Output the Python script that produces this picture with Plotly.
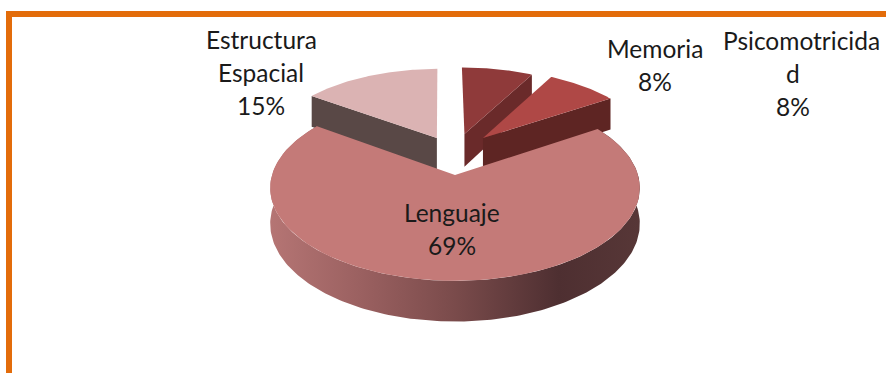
import numpy as np
import plotly.graph_objects as go

# --- data ---
categories = ["Lenguaje", "Estructura Espacial", "Memoria", "Psicomotricidad"]
percent_values = [69, 15, 8, 8]
label_lines = [["Lenguaje"], ["Estructura", "Espacial"], ["Memoria"], ["Psicomotricida", "d"]]

# --- style / layout ---
top_colors = ["#C47A78", "#DBB3B3", "#8F3A3A", "#AF4846"]
wall_colors = [None, "#594846", "#6A2A2A", "#5E2523"]
rim_scale = [[0, "#B57574"], [0.25, "#9A6060"], [0.5, "#7A4B4B"], [0.78, "#4E2F31"], [1, "#573737"]]
explode_offset = [(0.0, 0.0), (-0.105, 0.43), (0.055, 0.48), (0.162, 0.431)]
slice_radius = [1.0, 0.965, 0.935, 0.955]
first_angle = 57.0
CX, CY, RX, RY, K, DEPTH = 455.0, 175.0, 183.0, 91.0, 0.14, 35.0
ORANGE = "#E36C0A"
FONT = "Lato"
FONT_SIZE = 24.5
LINE_H = 33
label_x = [[452, 452], [261, 261, 261], [655, 655], [801, 793, 793]]
label_y = [212, 39, 48, 40]


def project(u, v, drop=0.0):
    w = 1 + K * v
    return CX + RX * u / w, CY - RY * v / w + drop * DEPTH / w


def rim(i, a0, a1, n=80):
    t = np.radians(np.linspace(a0, a1, n))
    du, dv = explode_offset[i]
    r = slice_radius[i]
    return du + r * np.sin(t), dv + r * np.cos(t)


# slice angles follow the values
spans = [p / sum(percent_values) * 360 for p in percent_values]
starts = [first_angle + sum(spans[:i]) for i in range(len(spans))]

fig = go.Figure()


def poly(x, y, color=None, **kw):
    args = dict(x=list(x), y=list(y), mode="lines", fill="toself",
                line=dict(width=0), hoverinfo="skip", showlegend=False)
    if color:
        args["fillcolor"] = color
    args.update(kw)
    fig.add_trace(go.Scatter(**args))


def wall(i, a):
    du, dv = explode_offset[i]
    u, v = rim(i, a, a, 1)
    px0, py0 = project(u[0], v[0])
    px1, py1 = project(u[0], v[0], 1)
    ax0, ay0 = project(du, dv)
    ax1, ay1 = project(du, dv, 1)
    poly([px0, ax0, ax1, px1, px0], [py0, ay0, ay1, py1, py0], wall_colors[i])


def top(i):
    u, v = rim(i, starts[i], starts[i] + spans[i])
    du, dv = explode_offset[i]
    px, py = project(np.r_[du, u, du], np.r_[dv, v, dv])
    poly(px, py, top_colors[i])


# exploded slices, back to front
wall(1, starts[1])
top(1)
wall(2, starts[2] + spans[2])
top(2)
wall(3, starts[3] + spans[3])
top(3)

# main slice: outer rim with gradient, then top
u, v = rim(0, starts[0], starts[0] + spans[0], 240)
x1, y1 = project(u, v)
x2, y2 = project(u, v, 1)
poly(np.r_[x1, x2[::-1], x1[0]], np.r_[y1, y2[::-1], y1[0]],
     fillgradient=dict(type="horizontal", colorscale=rim_scale))
top(0)

# labels
annotations = []
for i, lines in enumerate(label_lines):
    rows = lines + [f"{percent_values[i]}%"]
    for j, row in enumerate(rows):
        annotations.append(dict(x=label_x[i][j], y=label_y[i] + j * LINE_H, text=row, showarrow=False,
                                xref="x", yref="y", xanchor="center", yanchor="middle",
                                font=dict(family=FONT, size=FONT_SIZE, color="#1a1a1a")))

shapes = [
    dict(type="rect", xref="x", yref="y", x0=6, x1=886, y0=11, y1=17, fillcolor=ORANGE, line_width=0, layer="below"),
    dict(type="rect", xref="x", yref="y", x0=6, x1=12, y0=11, y1=373, fillcolor=ORANGE, line_width=0, layer="below"),
]

fig.update_layout(
    width=886, height=373, margin=dict(l=0, r=0, t=0, b=0),
    paper_bgcolor="white", plot_bgcolor="white", showlegend=False,
    xaxis=dict(range=[0, 886], visible=False, fixedrange=True),
    yaxis=dict(range=[373, 0], visible=False, fixedrange=True),
    annotations=annotations, shapes=shapes,
)
fig.write_html("out.html", config={"displayModeBar": False},
               post_script="document.body.style.margin='0';document.body.style.overflow='hidden';")
